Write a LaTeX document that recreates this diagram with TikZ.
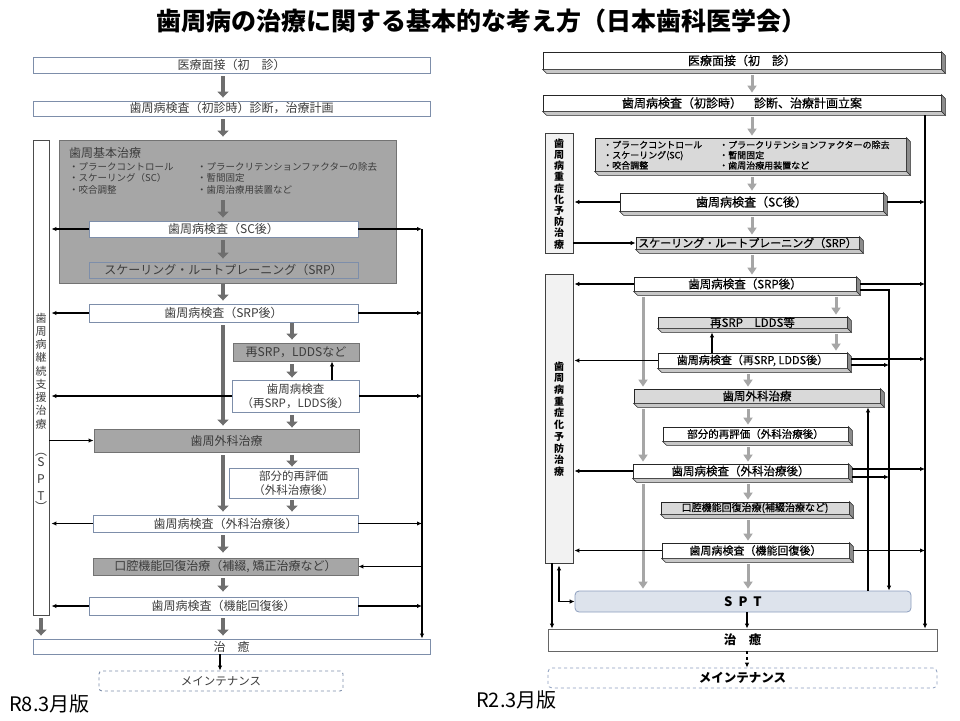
\documentclass[tikz,border=0pt]{standalone}
\usepackage{fontspec}
\setmainfont{Noto Sans CJK JP}
\newfontfamily\rmed[FakeBold=0.6]{Noto Sans CJK JP}
\usetikzlibrary{arrows.meta}
\definecolor{bordL}{RGB}{125,142,170}
\definecolor{gFillL}{RGB}{166,166,166}
\definecolor{gArrL}{RGB}{110,110,110}
\definecolor{txtL}{RGB}{60,60,60}
\definecolor{gArrR}{RGB}{166,166,166}
\definecolor{gFillR}{RGB}{217,217,217}
\definecolor{lboxR}{RGB}{242,242,242}
\definecolor{sptFill}{RGB}{221,227,236}
\definecolor{sptBord}{RGB}{140,158,190}
\newcommand\mkbox[7]{\node[#1, minimum width={(#5-#3)*1pt}, minimum height={(#6-#4)*1pt}] (#2) at ({(#3+#5)/2},{(#4+#6)/2}) {#7};}
\newcommand\cubef[1]{%
  \filldraw[faceR] (#1.north east) -- ++(4,4) -- ([shift={(4,4)}]#1.south east) -- (#1.south east) -- cycle;
  \filldraw[faceB] (#1.south west) -- (#1.south east) -- ([shift={(4,4)}]#1.south east) -- ([shift={(4,4)}]#1.south west) -- cycle;}
\begin{document}
\begin{tikzpicture}[x=1pt,y=-1pt,
  boxL/.style={draw=bordL, line width=0.9pt, fill=white, inner sep=0pt, text=txtL, font=\fontsize{12}{14}\selectfont, align=center},
  gboxL/.style={boxL, fill=gFillL, draw=black!55},
  cubeW/.style={draw=black!85, line width=0.8pt, fill=white, inner sep=0pt, font=\rmed\fontsize{11.5}{13}\selectfont, align=center},
  cubeG/.style={cubeW, fill=gFillR},
  faceR/.style={fill=black!45, draw=black!85, line width=0.6pt},
  faceB/.style={fill=black!22, draw=black!85, line width=0.6pt},
  garL/.style={draw=gArrL, line width=4.5pt, -{Triangle[width=11pt,length=6pt]}, shorten <=3pt, shorten >=3pt},
  garR/.style={draw=gArrR, line width=3pt, -{Triangle[width=9pt,length=7pt]}, shorten <=6pt, shorten >=2pt},
  blk/.style={draw=black, line width=1.2pt, -{Latex[length=5pt,width=4.5pt]}},
  blkline/.style={draw=black, line width=1.2pt},
  vtxt/.style={inner sep=0pt, align=center},
]
\useasboundingbox (0,0) rectangle (960,720);
\fill[white] (0,0) rectangle (960,720);

% ---------- title and labels
\node[font=\fontsize{25}{28}\selectfont\bfseries] (title) at (481,21) {歯周病の治療に関する基本的な考え方（日本歯科医学会）};
\node[anchor=west, inner sep=0pt, font=\fontsize{20}{22}\selectfont] (labL) at (9,704) {R8.3月版};
\node[anchor=west, inner sep=0pt, font=\fontsize{20}{22}\selectfont] (labR) at (476,700) {R2.3月版};

% ================= LEFT (R8.3) =================
\coordinate (ta) at (223,0);
\coordinate (tb) at (292,0);
\coordinate (tc) at (41,0);
\coordinate (vL) at (422,0);
\coordinate (xU) at (332,0);
\coordinate (xm) at (220,0);

\mkbox{gboxL}{Lbig}{59}{140}{396}{283}{}
\mkbox{boxL, draw=black!70}{LSPT}{33}{140}{49}{615}{}
\node[vtxt, text=txtL, font=\fontsize{11}{13.25}\selectfont] (sptv1) at (41,371) {歯\\周\\病\\継\\続\\支\\援\\治\\療};
\node[vtxt, text=txtL, font=\fontsize{12}{17}\selectfont] (sptv2) at (41,482) {︵\\[-6pt]S\\P\\T\\[-6pt]︶};

\mkbox{boxL}{L1}{33}{57}{430}{73}{医療面接（初　診）}
\mkbox{boxL}{L2}{33}{101}{430}{116}{歯周病検査（初診時）診断，治療計画}
\node[anchor=west, inner sep=0pt, text=txtL, font=\fontsize{12}{14}\selectfont] (lbt) at (69,153) {歯周基本治療};
\node[anchor=north west, inner sep=0pt, align=left, text=txtL, font=\fontsize{9.5}{11.5}\selectfont] (lb1) at (69,162) {・プラークコントロール\\・スケーリング（SC）\\・咬合調整};
\node[anchor=north west, inner sep=0pt, align=left, text=txtL, font=\fontsize{9.5}{11.5}\selectfont] (lb2) at (197,162) {・プラークリテンションファクターの除去\\・暫間固定\\・歯周治療用装置など};
\mkbox{boxL}{L3}{89}{221}{358}{237}{歯周病検査（SC後）}
\mkbox{boxL, fill=gFillL}{L4}{89}{262}{358}{278}{スケーリング・ルートプレーニング（SRP）}
\mkbox{boxL}{L5}{89}{304}{358}{322}{歯周病検査（SRP後）}
\mkbox{gboxL}{L6}{233}{343}{359}{361}{再SRP，LDDSなど}
\mkbox{boxL, font=\fontsize{11.5}{14}\selectfont}{L7}{232}{380}{359}{412}{歯周病検査\\（再SRP，LDDS後）}
\mkbox{gboxL}{L8}{94}{429}{359}{452}{歯周外科治療}
\mkbox{boxL, font=\fontsize{11.5}{14}\selectfont}{L9}{229}{468}{358}{498}{部分的再評価\\（外科治療後）}
\mkbox{boxL}{L10}{93}{515}{358}{532}{歯周病検査（外科治療後）}
\mkbox{gboxL}{L11}{93}{558}{358}{575}{口腔機能回復治療（補綴, 矯正治療など）}
\mkbox{boxL}{L12}{89}{597}{358}{615}{歯周病検査（機能回復後）}
\mkbox{boxL}{L13}{33}{639}{430}{654}{治　癒}
\mkbox{boxL, dashed, rounded corners=3pt, font=\fontsize{11.5}{14}\selectfont}{L14}{99}{671}{343}{691}{メインテナンス}

% gray flow arrows (left)
\draw[garL] (L1.south -| ta) -- (L2.north -| ta);
\draw[garL] (L2.south -| ta) -- (Lbig.north -| ta);
\draw[garL, shorten <=6pt] (lb1.south -| ta) -- (L3.north -| ta);
\draw[garL] (L3.south -| ta) -- (L4.north -| ta);
\draw[garL, shorten <=1pt] (Lbig.south -| ta) -- (L5.north -| ta);
\draw[garL] (L5.south -| ta) -- (L8.north -| ta);
\draw[garL, shorten <=1pt] (L5.south -| tb) -- (L6.north -| tb);
\draw[garL, shorten >=2pt] (L6.south -| tb) -- (L7.north -| tb);
\draw[garL, shorten >=1pt] (L7.south -| tb) -- (L8.north -| tb);
\draw[garL] (L8.south -| ta) -- (L10.north -| ta);
\draw[garL, shorten >=1pt] (L8.south -| tb) -- (L9.north -| tb);
\draw[garL, shorten <=2pt] (L9.south -| tb) -- (L10.north -| tb);
\draw[garL, shorten >=5pt] (L10.south -| ta) -- (L11.north -| ta);
\draw[garL, shorten >=5pt] (L11.south -| ta) -- (L12.north -| ta);
\draw[garL] (L12.south -| ta) -- (L13.north -| ta);
\draw[garL] (LSPT.south -| tc) -- (L13.north -| tc);

% black connectors (left)
\draw[blk] (L3.east -| vL) -- (L13.north -| vL);
\foreach \n in {L3,L5,L10,L12} {
  \draw[blk, shorten >=2pt] (\n.west) -- (\n.west -| LSPT.east);
  \draw[blk] (\n.east) -- (\n.east -| vL);
}
\draw[blk, shorten >=2pt] (L7.west) -- (L7.west -| LSPT.east);
\draw[blk] (L7.east) -- (L7.east -| vL);
\draw[blk] (L7.north -| xU) -- (L6.south -| xU);
\draw[blk] (LSPT.east |- L8.west) -- (L8.west);
\draw[blk] (L11.east -| vL) -- (L11.east);
\draw[blk] (L13.south -| xm) -- (L14.north -| xm);

% ================= RIGHT (R2.3) =================
\coordinate (g1) at (752,0);
\coordinate (g2) at (748,0);
\coordinate (g3) at (643,0);
\coordinate (g4) at (836,0);
\coordinate (vR) at (925,0);
\coordinate (vM) at (889,0);
\coordinate (vU) at (868,0);
\coordinate (xa) at (552,0);
\coordinate (xb) at (559,0);
\coordinate (xc) at (747,0);
\coordinate (xd) at (712,0);

\mkbox{cubeW, fill=lboxR, draw=black!75}{RL1}{545}{133}{573}{253}{}
\mkbox{cubeW, fill=lboxR, draw=black!75}{RL2}{545}{274}{573}{563}{}
\node[vtxt, font=\fontsize{10}{11.2}\selectfont\bfseries] (rv1) at (559,194) {歯\\周\\病\\重\\症\\化\\予\\防\\治\\療};
\node[vtxt, font=\fontsize{10}{11.7}\selectfont\bfseries] (rv2) at (559,419) {歯\\周\\病\\重\\症\\化\\予\\防\\治\\療};

\mkbox{cubeW, font=\rmed\fontsize{12}{14}\selectfont}{R1}{543}{52}{941}{69}{医療面接（初　診）}
\mkbox{cubeW, font=\rmed\fontsize{12}{14}\selectfont}{R2}{543}{95}{941}{111}{歯周病検査（初診時）　診断、治療計画立案}
\mkbox{cubeG}{R3}{595}{138}{906}{171}{}
\node[anchor=north west, inner sep=0pt, align=left, font=\rmed\fontsize{9}{10.3}\selectfont] (rb1) at (603,140.5) {・プラークコントロール\\・スケーリング(SC)\\・咬合調整};
\node[anchor=north west, inner sep=0pt, align=left, font=\rmed\fontsize{9}{10.3}\selectfont] (rb2) at (719,140.5) {・プラークリテンションファクターの除去\\・暫間固定\\・歯周治療用装置など};
\mkbox{cubeW, font=\rmed\fontsize{12}{14}\selectfont}{R4}{620}{193}{883}{211}{歯周病検査（SC後）}
\mkbox{cubeG, font=\rmed\fontsize{11}{13}\selectfont}{R5}{636}{237}{859}{249}{スケーリング・ルートプレーニング（SRP）}
\mkbox{cubeW, font=\rmed\fontsize{11.5}{13}\selectfont}{R6}{634}{277}{856}{291}{歯周病検査（SRP後）}
\mkbox{cubeG}{R7}{658}{317}{847}{328}{再SRP　LDDS等}
\mkbox{cubeW, font=\rmed\fontsize{11}{13}\selectfont}{R8}{658}{353}{847}{368}{歯周病検査（再SRP, LDDS後）}
\mkbox{cubeG}{R9}{634}{389}{880}{403}{歯周外科治療}
\mkbox{cubeW, font=\rmed\fontsize{10.5}{12}\selectfont}{R10}{663}{427}{848}{441}{部分的再評価（外科治療後）}
\mkbox{cubeW, font=\rmed\fontsize{11.5}{13}\selectfont}{R11}{633}{464}{848}{478}{歯周病検査（外科治療後）}
\mkbox{cubeG, font=\rmed\fontsize{10}{12}\selectfont}{R12}{661}{502}{849}{514}{口腔機能回復治療(補綴治療など)}
\mkbox{cubeW, font=\rmed\fontsize{11}{13}\selectfont}{R13}{662}{543}{849}{558}{歯周病検査（機能回復後）}
\foreach \n in {R1,R2,R3,R4,R5,R6,R7,R8,R9,R10,R11,R12,R13} {\cubef{\n}}

\mkbox{cubeW, fill=sptFill, draw=sptBord, rounded corners=4pt, font=\fontsize{13}{15}\selectfont\bfseries}{RSPT}{575}{591}{911}{612}{S\hspace{6pt}P\hspace{6pt}T}
\mkbox{cubeW, draw=black!60, font=\fontsize{12.5}{15}\selectfont\bfseries}{R14}{548}{629}{937}{651}{治　癒}
\mkbox{cubeW, draw=sptBord, dashed, rounded corners=4pt, font=\fontsize{12.5}{15}\selectfont\bfseries}{R15}{548}{668}{937}{688}{メインテナンス}

% gray flow arrows (right)
\draw[garR] (R1.south -| g1) -- (R2.north -| g1);
\draw[garR] (R2.south -| g1) -- (R3.north -| g1);
\draw[garR] (R3.south -| g1) -- (R4.north -| g1);
\draw[garR] (R4.south -| g1) -- (R5.north -| g1);
\draw[garR] (R5.south -| g1) -- (R6.north -| g1);
\draw[garR] (R6.south -| g3) -- (R9.north -| g3);
\draw[garR] (R6.south -| g4) -- (R7.north -| g4);
\draw[garR] (R7.south -| g4) -- (R8.north -| g4);
\draw[garR] (R8.south -| g2) -- (R9.north -| g2);
\draw[garR] (R9.south -| g2) -- (R10.north -| g2);
\draw[garR] (R9.south -| g3) -- (R11.north -| g3);
\draw[garR] (R10.south -| g2) -- (R11.north -| g2);
\draw[garR] (R11.south -| g2) -- (R12.north -| g2);
\draw[garR] (R11.south -| g3) -- (RSPT.north -| g3);
\draw[garR] (R12.south -| g2) -- (R13.north -| g2);
\draw[garR] (R13.south -| g2) -- (RSPT.north -| g2);

% black connectors (right)
\draw[blk] ([yshift=-4pt]R2.south -| vR) -- (R14.north -| vR);
\draw[blk] ([shift={(4,6)}]R6.east) -| (RSPT.north -| vM);
\foreach \n in {R4,R6,R8,R11,R13} {
  \draw[blk, shorten >=1pt] (\n.west) -- (\n.west -| RL1.east);
}
\draw[blk] ([xshift=4pt]R4.east) -- (R4.east -| vR);
\draw[blk] ([xshift=4pt]R6.east) -- (R6.east -| vR);
\draw[blk] ([shift={(4,-1.5)}]R8.east) -- ([yshift=1.5pt]R8.east -| vR);
\draw[blk] ([shift={(4,4.5)}]R8.east) -- ([yshift=-4.5pt]R8.east -| vM);
\draw[blk] ([shift={(4,-2)}]R11.east) -- ([yshift=2pt]R11.east -| vR);
\draw[blk] ([shift={(4,6)}]R11.east) -- ([yshift=-6pt]R11.east -| vM);
\draw[blk] ([xshift=4pt]R13.east) -- (R13.east -| vR);
\draw[blk] (RL1.east |- R5.west) -- (R5.west);
\draw[blk] (R8.north -| xd) -- ([yshift=-4pt]R7.south -| xd);
\draw[blk] (RSPT.north -| vU) -- ([yshift=-4pt]R9.south -| vU);
\draw[blk] (RL2.south -| xa) -- (R14.north -| xa);
\draw[blkline, {Latex[length=5pt,width=4.5pt]}-{Latex[length=5pt,width=4.5pt]}] ([yshift=-2pt]RL2.south -| xb) |- (RSPT.west);
\draw[blk] (RSPT.south -| xc) -- (R14.north -| xc);
\draw[blk, dashed] (R14.south -| xc) -- (R15.north -| xc);
\end{tikzpicture}
\end{document}
